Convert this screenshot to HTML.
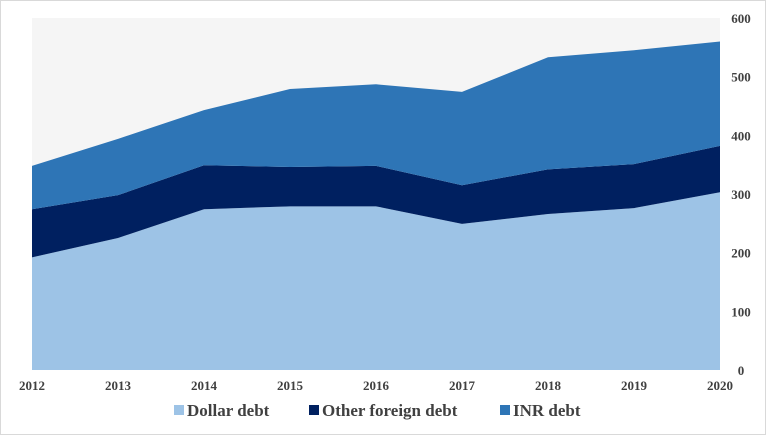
<!DOCTYPE html>
<html><head><meta charset="utf-8"><style>
body{margin:0;background:#fff;}
svg{display:block;font-family:"Liberation Serif",serif;font-weight:bold;}
</style></head><body>
<svg width="766" height="435">
<rect x="0.5" y="0.5" width="765" height="434" fill="#fff" stroke="#d9d9d9"/>
<rect x="32" y="18" width="688" height="352" fill="#f5f5f5"/>
<g id="areas"></g>
<g id="xaxis"></g>
<g id="yaxis"></g>
<g font-size="17">
 <rect x="174" y="405" width="10" height="10" fill="#9dc3e6"/>
 <text x="187" y="416" fill="#404040">Dollar debt</text>
 <rect x="309" y="405" width="10" height="10" fill="#002060"/>
 <text x="322" y="416" fill="#404040">Other foreign debt</text>
 <rect x="500" y="405" width="10" height="10" fill="#2e75b6"/>
 <text x="513" y="416" fill="#404040">INR debt</text>
</g>
</svg>
<script>
const years=["2012","2013","2014","2015","2016","2017","2018","2019","2020"];
const dollarDebt=[192,225,274,279,279,249,266,276,303];
const otherDebt=[82,73,75,67,69,66,76,75,79];
const inrDebt=[74,96,94,133,139,159,191,194,178];
const yTicks=[0,100,200,300,400,500,600];
const NS="http://www.w3.org/2000/svg";
const x0=32,x1=720,y0=370,yTop=18,yMax=600;
const X=i=>x0+i*(x1-x0)/(years.length-1);
const Y=v=>y0-v*(y0-yTop)/yMax;
function mk(t,a){const e=document.createElementNS(NS,t);for(const k in a)e.setAttribute(k,a[k]);return e;}
const series=[[dollarDebt,"#9dc3e6","area-dollar-debt"],[otherDebt,"#002060","area-other-foreign-debt"],[inrDebt,"#2e75b6","area-inr-debt"]];
let base=years.map(()=>0);
const g=document.getElementById("areas");
series.forEach(([vals,col,name])=>{
 const top=base.map((b,i)=>b+vals[i]);
 let d="M"+years.map((_,i)=>X(i)+","+Y(top[i])).join("L");
 for(let i=years.length-1;i>=0;i--)d+="L"+X(i)+","+Y(base[i]);
 d+="Z";
 const p=mk("path",{d:d,fill:col});
 
 
 g.appendChild(p);
 base=top;
});
const xa=document.getElementById("xaxis");
years.forEach((y,i)=>{
 const t=mk("text",{x:X(i),y:390,"text-anchor":"middle","font-size":"13",fill:"#404040"});
 t.textContent=y;
 
 
 xa.appendChild(t);
});
const ya=document.getElementById("yaxis");
yTicks.forEach(v=>{
 const t=mk("text",{x:741,y:Y(v)+5,"text-anchor":"middle","font-size":"13",fill:"#404040"});
 t.textContent=v;
 
 
 ya.appendChild(t);
});
</script>
</body></html>
